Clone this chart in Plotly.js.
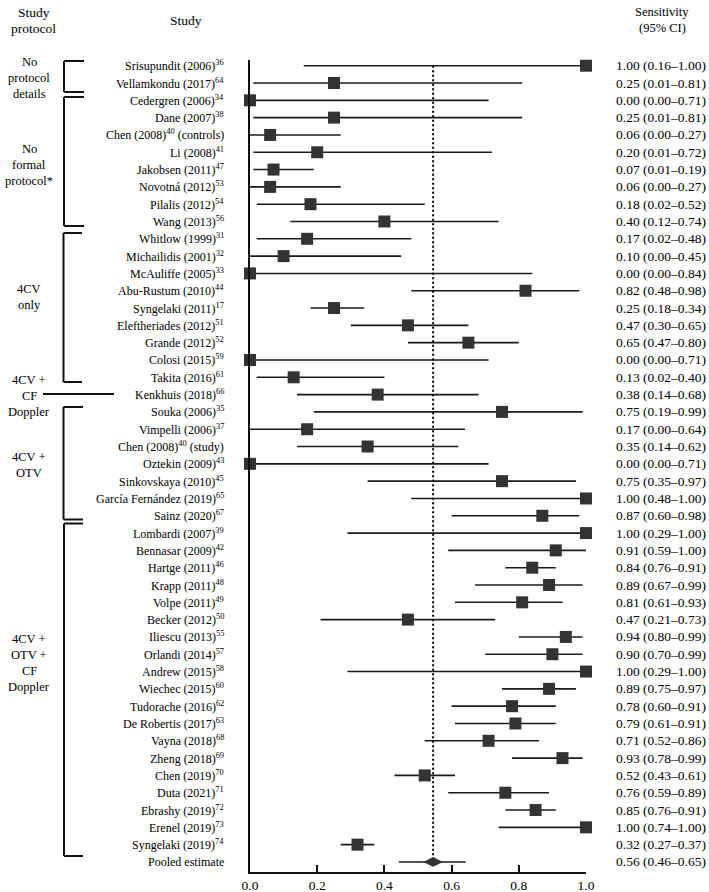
<!DOCTYPE html>
<html>
<head>
<meta charset="utf-8">
<script src="https://cdn.plot.ly/plotly-3.0.1.min.js"></script>
<style>
  html, body { margin: 0; padding: 0; background: #fff; }
  #chart { width: 709px; height: 892px; }
</style>
</head>
<body>
<div id="chart"></div>
<script>
// ---------- DATA ----------
const studies = [
  "Srisupundit (2006)<sup>36</sup>",
  "Vellamkondu (2017)<sup>64</sup>",
  "Cedergren (2006)<sup>34</sup>",
  "Dane (2007)<sup>38</sup>",
  "Chen (2008)<sup>40</sup> (controls)",
  "Li (2008)<sup>41</sup>",
  "Jakobsen (2011)<sup>47</sup>",
  "Novotná (2012)<sup>53</sup>",
  "Pilalis (2012)<sup>54</sup>",
  "Wang (2013)<sup>56</sup>",
  "Whitlow (1999)<sup>31</sup>",
  "Michailidis (2001)<sup>32</sup>",
  "McAuliffe (2005)<sup>33</sup>",
  "Abu-Rustum (2010)<sup>44</sup>",
  "Syngelaki (2011)<sup>17</sup>",
  "Eleftheriades (2012)<sup>51</sup>",
  "Grande (2012)<sup>52</sup>",
  "Colosi (2015)<sup>59</sup>",
  "Takita (2016)<sup>61</sup>",
  "Kenkhuis (2018)<sup>66</sup>",
  "Souka (2006)<sup>35</sup>",
  "Vimpelli (2006)<sup>37</sup>",
  "Chen (2008)<sup>40</sup> (study)",
  "Oztekin (2009)<sup>43</sup>",
  "Sinkovskaya (2010)<sup>45</sup>",
  "García Fernández (2019)<sup>65</sup>",
  "Sainz (2020)<sup>67</sup>",
  "Lombardi (2007)<sup>39</sup>",
  "Bennasar (2009)<sup>42</sup>",
  "Hartge (2011)<sup>46</sup>",
  "Krapp (2011)<sup>48</sup>",
  "Volpe (2011)<sup>49</sup>",
  "Becker (2012)<sup>50</sup>",
  "Iliescu (2013)<sup>55</sup>",
  "Orlandi (2014)<sup>57</sup>",
  "Andrew (2015)<sup>58</sup>",
  "Wiechec (2015)<sup>60</sup>",
  "Tudorache (2016)<sup>62</sup>",
  "De Robertis (2017)<sup>63</sup>",
  "Vayna (2018)<sup>68</sup>",
  "Zheng (2018)<sup>69</sup>",
  "Chen (2019)<sup>70</sup>",
  "Duta (2021)<sup>71</sup>",
  "Ebrashy (2019)<sup>72</sup>",
  "Erenel (2019)<sup>73</sup>",
  "Syngelaki (2019)<sup>74</sup>"
];
const sensitivity = [1.00,0.25,0.00,0.25,0.06,0.20,0.07,0.06,0.18,0.40,
  0.17,0.10,0.00,0.82,0.25,0.47,0.65,0.00,0.13,0.38,
  0.75,0.17,0.35,0.00,0.75,1.00,0.87,1.00,0.91,0.84,
  0.89,0.81,0.47,0.94,0.90,1.00,0.89,0.78,0.79,0.71,
  0.93,0.52,0.76,0.85,1.00,0.32];
const ciLow = [0.16,0.01,0.00,0.01,0.00,0.01,0.01,0.00,0.02,0.12,
  0.02,0.00,0.00,0.48,0.18,0.30,0.47,0.00,0.02,0.14,
  0.19,0.00,0.14,0.00,0.35,0.48,0.60,0.29,0.59,0.76,
  0.67,0.61,0.21,0.80,0.70,0.29,0.75,0.60,0.61,0.52,
  0.78,0.43,0.59,0.76,0.74,0.27];
const ciHigh = [1.00,0.81,0.71,0.81,0.27,0.72,0.19,0.27,0.52,0.74,
  0.48,0.45,0.84,0.98,0.34,0.65,0.80,0.71,0.40,0.68,
  0.99,0.64,0.62,0.71,0.97,1.00,0.98,1.00,1.00,0.91,
  0.99,0.93,0.73,0.99,0.99,1.00,0.97,0.91,0.91,0.86,
  0.99,0.61,0.89,0.91,1.00,0.37];
// pooled estimate: drawn position and its printed label
const pooledName = "Pooled estimate";
const pooledDrawn = [0.545, 0.443, 0.642];   // estimate, low, high
const pooledLabel = "0.56 (0.46–0.65)";
const xTicks = [0, 0.2, 0.4, 0.6, 0.8, 1.0];

// protocol groups: label lines
const groupLabels = [
  ["No", "protocol", "details"],
  ["No", "formal", "protocol*"],
  ["4CV", "only"],
  ["4CV +", "CF", "Doppler"],
  ["4CV +", "OTV"],
  ["4CV +", "OTV +", "CF", "Doppler"]
];

// ---------- GEOMETRY HELPERS (layout only) ----------
const W = 709, H = 892;
const L = 250, R = 586, T = 60, B = 872;
const px = v => (v - L) / (R - L);
const py = v => (B - v) / (B - T);
const FONT = "Liberation Serif, Times New Roman, serif";

const n = studies.length;
const yRow = studies.map((_, i) => -i);
const yPooled = -n;

const fmt = v => v.toFixed(2);
const ciText = sensitivity.map((e, i) => `${fmt(e)} (${fmt(ciLow[i])}–${fmt(ciHigh[i])})`);

const traces = [
  {
    type: "scatter", mode: "markers",
    x: sensitivity, y: yRow,
    marker: { symbol: "square", size: 12, color: "#333333" },
    error_x: {
      type: "data", symmetric: false,
      array: sensitivity.map((e, i) => ciHigh[i] - e),
      arrayminus: sensitivity.map((e, i) => e - ciLow[i]),
      width: 0, thickness: 1.6, color: "#1a1a1a"
    },
    cliponaxis: false, hoverinfo: "skip", showlegend: false
  },
  {
    type: "scatter", mode: "markers",
    x: [pooledDrawn[0]], y: [yPooled],
    marker: { symbol: "diamond-wide", size: 14, color: "#333333" },
    error_x: {
      type: "data", symmetric: false,
      array: [pooledDrawn[2] - pooledDrawn[0]],
      arrayminus: [pooledDrawn[0] - pooledDrawn[1]],
      width: 0, thickness: 1.6, color: "#1a1a1a"
    },
    cliponaxis: false, hoverinfo: "skip", showlegend: false
  }
];

const annotations = [];
const shapes = [];
const txt = (text, x, y, size, anchor) => annotations.push({
  text, xref: "paper", yref: "paper", x: px(x), y: py(y),
  xanchor: anchor || "center", yanchor: "middle", showarrow: false,
  font: { family: FONT, size, color: "#000" }
});

// study names and CI text
const allNames = studies.concat([pooledName]);
const allCI = ciText.concat([pooledLabel]);
allNames.forEach((s, i) => {
  annotations.push({
    text: s, xref: "paper", yref: "y", x: px(226), y: -i,
    xanchor: "right", yanchor: "middle", showarrow: false,
    font: { family: FONT, size: 12, color: "#000" }
  });
  annotations.push({
    text: allCI[i], xref: "paper", yref: "y", x: px(614), y: -i,
    xanchor: "left", yanchor: "middle", showarrow: false,
    font: { family: FONT, size: 13.5, color: "#000" }
  });
});

// headers
txt("Study", 34, 12, 13.5);
txt("protocol", 34, 28, 13.5);
txt("Study", 186, 20, 13.5);
txt("Sensitivity", 662, 12, 12.5);
txt("(95% CI)", 662, 28, 12.5);

// group labels (line centres in px)
const groupLineY = [
  [62, 78, 94],
  [149, 165, 181],
  [289, 305],
  [380, 396, 412],
  [457, 473],
  [639, 655, 671, 687]
];
groupLabels.forEach((lines, g) => {
  lines.forEach((t, k) => txt(t, 29, groupLineY[g][k], 12.5));
});

// brackets
const seg = (x0, y0, x1, y1) => shapes.push({
  type: "line", xref: "paper", yref: "paper",
  x0: px(x0), y0: py(y0), x1: px(x1), y1: py(y1),
  line: { color: "#111", width: 2 }
});
const bracket = (x, yTop, yBot, xEnd) => {
  seg(x, yTop, x, yBot);
  seg(x, yTop, xEnd, yTop);
  seg(x, yBot, xEnd, yBot);
};
bracket(64, 61, 92, 84);
bracket(64, 97, 226, 84);
bracket(63.5, 233, 382, 82);
seg(43, 394, 114, 394);
bracket(63.5, 407, 519.5, 83);
bracket(64, 523.5, 856, 83);

// dotted reference line at pooled estimate
shapes.push({
  type: "line", xref: "x", yref: "y",
  x0: pooledDrawn[0], x1: pooledDrawn[0], y0: 0, y1: yPooled,
  line: { color: "#000", width: 2, dash: "2px,2.5px" }, layer: "below"
});

const layout = {
  width: W, height: H,
  margin: { l: L, r: W - R, t: T, b: H - B, pad: 0 },
  paper_bgcolor: "#fff", plot_bgcolor: "#fff",
  showlegend: false,
  xaxis: {
    range: [0, 1], tickvals: xTicks, tickformat: ".1f",
    ticks: "inside", ticklen: 7, tickwidth: 2, tickcolor: "#111",
    showline: true, linewidth: 2, linecolor: "#111",
    showgrid: false, zeroline: false,
    tickfont: { family: FONT, size: 13.5, color: "#000" }
  },
  yaxis: {
    range: [-46.58, 0.33],
    showline: true, linewidth: 2, linecolor: "#111",
    showticklabels: false, ticks: "", showgrid: false, zeroline: false
  },
  annotations, shapes
};

Plotly.newPlot("chart", traces, layout, { staticPlot: true, displayModeBar: false });
</script>
</body>
</html>
